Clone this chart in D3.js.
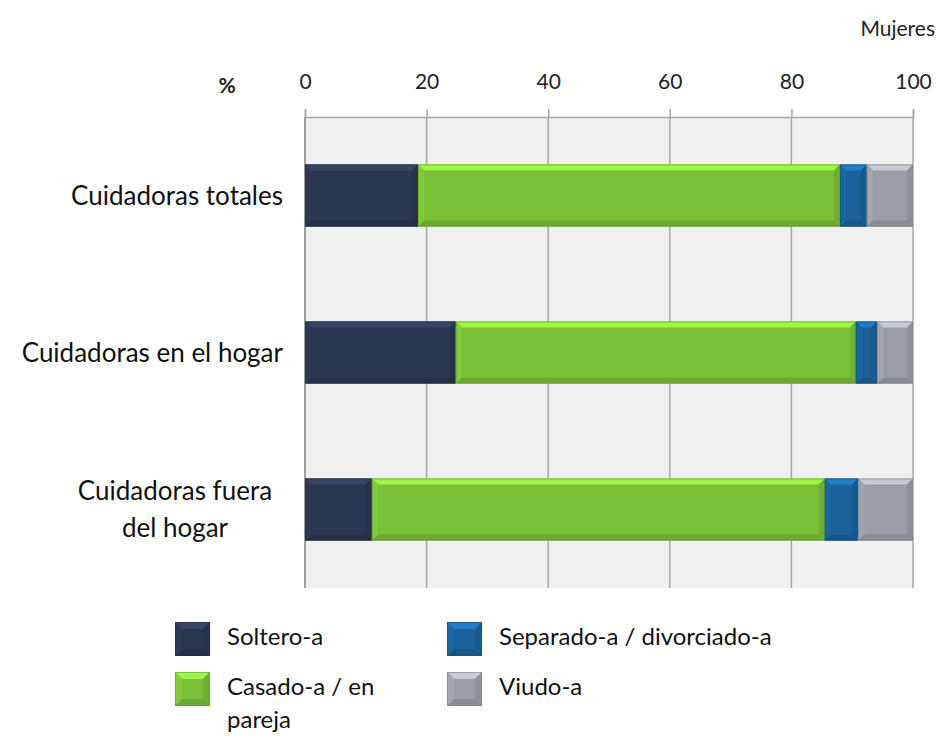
<!DOCTYPE html>
<html>
<head>
<meta charset="utf-8">
<script src="https://cdn.jsdelivr.net/npm/d3@7"></script>
<style>
  body { margin: 0; background: #fff; }
  svg { display: block; font-family: Lato, "Open Sans", sans-serif; }
</style>
</head>
<body>
<svg id="chart" width="937" height="736"></svg>
<script>
// datos (% mujeres)
var categories = ["Cuidadoras totales", "Cuidadoras en el hogar", "Cuidadoras fuera del hogar"];
var seriesNames = ["Soltero-a", "Casado-a / en pareja", "Separado-a / divorciado-a", "Viudo-a"];
var soltero  = [18.6, 24.8, 11.0];
var casado   = [69.4, 65.8, 74.5];
var separado = [4.4, 3.5, 5.5];
var viudo    = [7.6, 5.9, 9.0];
var tickValues = [0, 20, 40, 60, 80, 100];
var colors = ["#2b3650", "#7ac036", "#1a6299", "#999ea5"];

var svg = d3.select("#chart");
var plot = {left: 305, right: 913, top: 117, bottom: 588};

var rows = categories.map(function(c, i){
	return {cat: c, s0: soltero[i], s1: casado[i], s2: separado[i], s3: viudo[i]};
});
var stack = d3.stack().keys(["s0", "s1", "s2", "s3"]);
var layers = stack(rows);

var x = d3.scaleLinear().domain([0, 100]).range([plot.left, plot.right]);
var y = d3.scaleBand().domain(categories).range([plot.top, plot.bottom])
	.paddingInner(0.605).paddingOuter(0.3025);

// fondo del área
svg.append("rect")
	.attr("x", plot.left).attr("y", plot.top)
	.attr("width", plot.right - plot.left).attr("height", plot.bottom - plot.top)
	.attr("fill", "#f0f0f0");

// eje superior con rejilla
var axis = svg.append("g")
	.attr("transform", "translate(0," + plot.top + ")")
	.call(d3.axisTop(x).tickValues(tickValues).tickSize(8).tickPadding(20).tickFormat(d3.format("d")));
axis.select(".domain").attr("stroke", "#a6a6a6").attr("stroke-width", 1.5);
axis.selectAll(".tick line").attr("stroke", "#a6a6a6").attr("stroke-width", 1.5);
axis.selectAll(".tick text").attr("font-size", 21).attr("fill", "#222")
	.attr("font-family", "Lato, 'Open Sans', sans-serif");

svg.append("g").selectAll("line").data(tickValues).enter().append("line")
	.attr("x1", function(d){ return x(d); }).attr("x2", function(d){ return x(d); })
	.attr("y1", plot.top).attr("y2", plot.bottom)
	.attr("stroke", function(d){ return d === 0 ? "#a0a0a0" : "#a6a6a6"; })
	.attr("stroke-width", function(d){ return d === 0 ? 2 : 1.5; });

svg.append("text").attr("x", 227).attr("y", 93).attr("text-anchor", "middle")
	.attr("font-size", 21).attr("font-weight", "bold").attr("fill", "#222").text("%");

svg.append("text").attr("x", 935).attr("y", 36).attr("text-anchor", "end")
	.attr("font-size", 21).attr("fill", "#222").text("Mujeres");

// rectángulo con bisel
function bevelRect(g, x0, y0, w, h, color, b){
	var c = d3.color(color);
	b = Math.min(b, w / 2, h / 2);
	g.append("rect").attr("x", x0).attr("y", y0).attr("width", w).attr("height", h).attr("fill", color);
	var pts = function(a){ return a.map(function(p){ return p.join(","); }).join(" "); };
	g.append("polygon").attr("points", pts([[x0, y0], [x0 + w, y0], [x0 + w - b, y0 + b], [x0 + b, y0 + b]]))
		.attr("fill", c.brighter(0.7).formatHex());
	g.append("polygon").attr("points", pts([[x0, y0 + h], [x0 + w, y0 + h], [x0 + w - b, y0 + h - b], [x0 + b, y0 + h - b]]))
		.attr("fill", c.darker(0.35).formatHex());
	g.append("polygon").attr("points", pts([[x0, y0], [x0 + b, y0 + b], [x0 + b, y0 + h - b], [x0, y0 + h]]))
		.attr("fill", c.brighter(0.15).formatHex());
	g.append("polygon").attr("points", pts([[x0 + w, y0], [x0 + w - b, y0 + b], [x0 + w - b, y0 + h - b], [x0 + w, y0 + h]]))
		.attr("fill", c.darker(0.25).formatHex());
	g.append("rect").attr("x", x0 + 0.5).attr("y", y0 + 0.5).attr("width", w - 1).attr("height", h - 1)
		.attr("fill", "none").attr("stroke", c.darker(0.6).formatHex()).attr("stroke-opacity", 0.6);
}

// barras
layers.forEach(function(layer, k){
	var g = svg.append("g").attr("class", "serie-" + k);
	layer.forEach(function(d){
		var x0 = x(d[0]), x1 = x(d[1]);
		bevelRect(g, x0, y(d.data.cat), x1 - x0, y.bandwidth(), colors[k], 6);
	});
});

// etiquetas de categoría
function wrapLines(textSel, words, maxW){
	var lines = [], cur = [];
	words.forEach(function(w){
		var test = cur.concat([w]).join(" ");
		textSel.text(test);
		if (textSel.node().getComputedTextLength() > maxW && cur.length){
			lines.push(cur.join(" "));
			cur = [w];
		} else {
			cur.push(w);
		}
	});
	lines.push(cur.join(" "));
	textSel.text(null);
	return lines;
}

categories.forEach(function(c){
	var t = svg.append("text").attr("font-size", 26).attr("fill", "#111");
	t.text(c);
	var full = t.node().getComputedTextLength();
	var lines = full > 275 ? wrapLines(t, c.split(" "), 205) : [c];
	t.text(null);
	var cy = y(c) + y.bandwidth() / 2;
	var lh = 37;
	if (lines.length === 1){
		t.attr("text-anchor", "end").attr("x", 283).attr("y", cy + 9).text(lines[0]);
	} else {
		t.attr("text-anchor", "middle");
		lines.forEach(function(l, i){
			t.append("tspan").attr("x", 175).attr("y", cy + 9 + (i - 0.5) * lh).text(l);
		});
	}
});

// leyenda
var legendPos = [
	{x: 175, y: 622, maxW: 190},
	{x: 175, y: 672, maxW: 190},
	{x: 447, y: 622, maxW: 330},
	{x: 447, y: 672, maxW: 330}
];
seriesNames.forEach(function(name, k){
	var p = legendPos[k];
	var g = svg.append("g").attr("class", "legend-" + k);
	bevelRect(g, p.x, p.y, 35, 34, colors[k], 7);
	var t = g.append("text").attr("font-size", 24).attr("fill", "#111");
	var lines = wrapLines(t, name.split(" "), p.maxW);
	lines.forEach(function(l, i){
		t.append("tspan").attr("x", p.x + 52).attr("y", p.y + 23 + i * 33).text(l);
	});
});
</script>
</body>
</html>
